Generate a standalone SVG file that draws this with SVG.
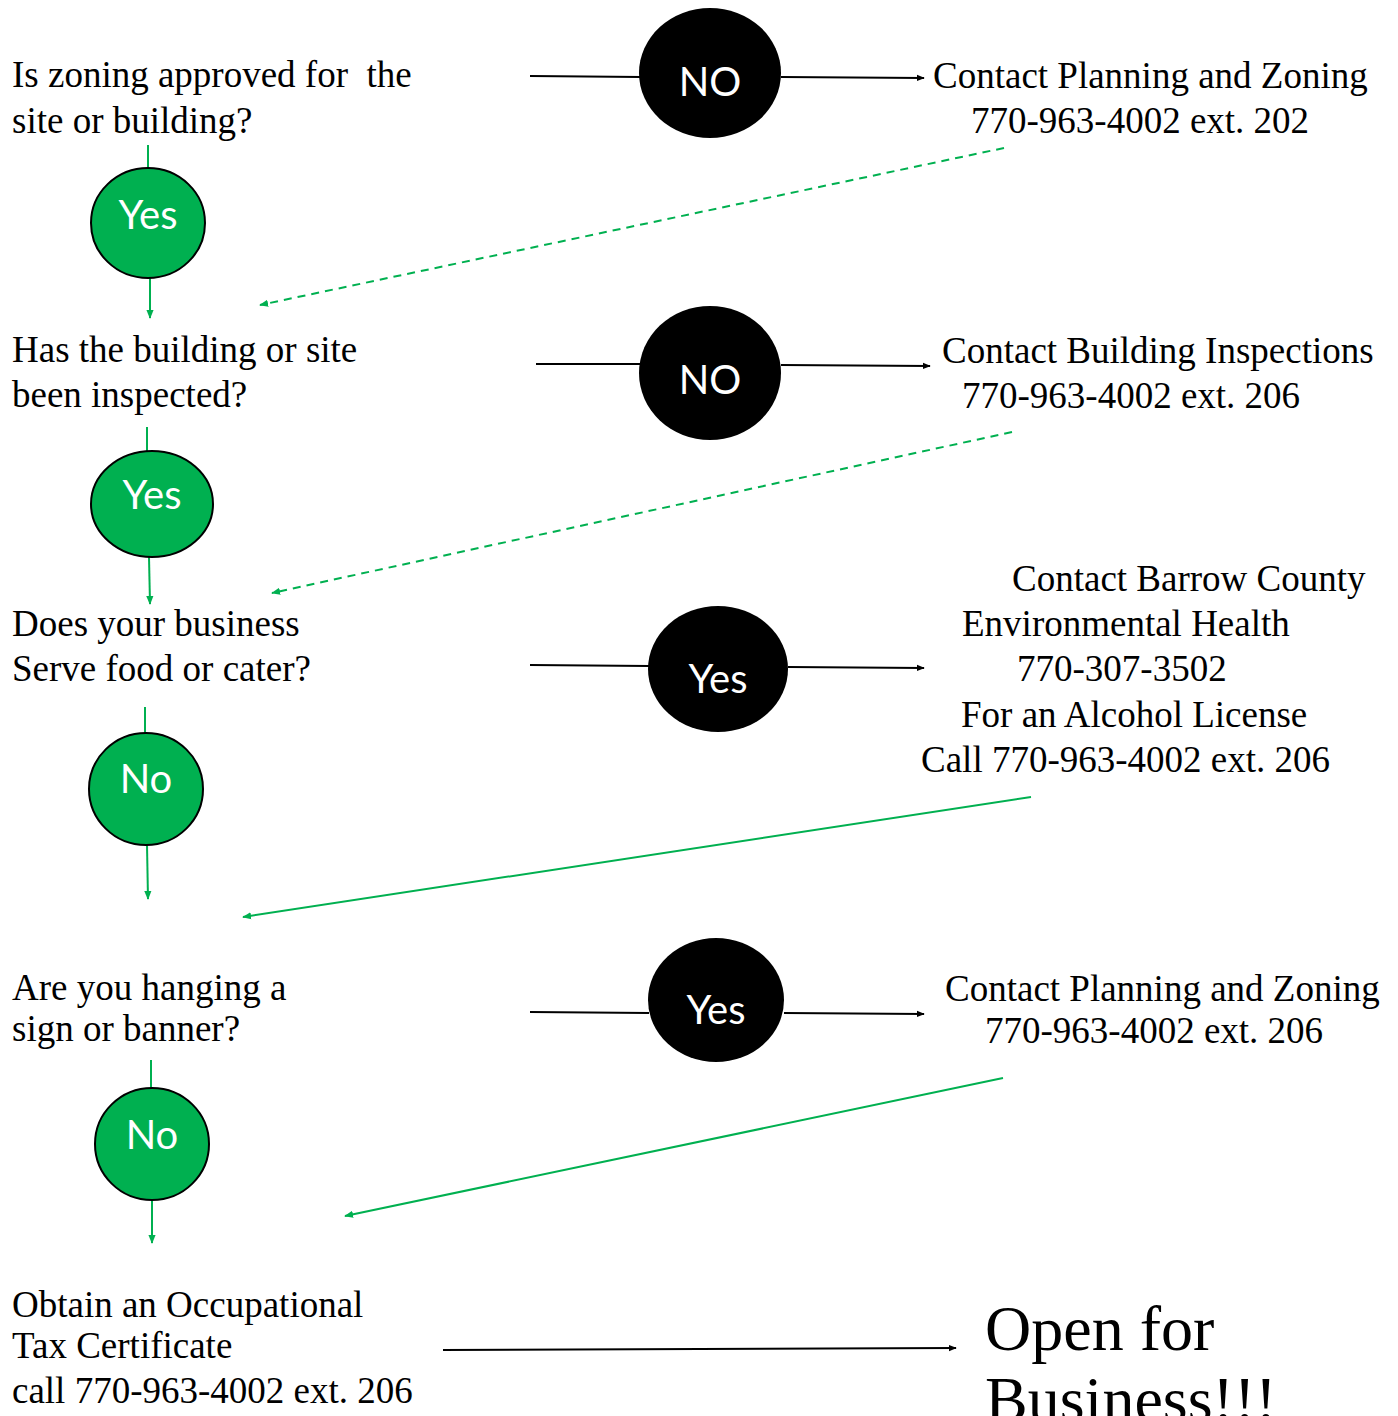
<svg xmlns="http://www.w3.org/2000/svg" width="1398" height="1416" viewBox="0 0 1398 1416">
<defs>
<style>
.t{font-family:"Liberation Serif","Times New Roman",serif;font-size:37px;fill:#000}
.big{font-family:"Liberation Serif","Times New Roman",serif;font-size:64px;fill:#000}
.lbl{font-family:Lato,"Noto Sans",sans-serif;font-size:40px;fill:#fff;text-anchor:middle}
.blk{fill:#000}
.grn{fill:#00B050;stroke:#000;stroke-width:2}
.cb{stroke:#000;stroke-width:2;fill:none}
.cg{stroke:#00B050;stroke-width:2;fill:none}
.dash{stroke-dasharray:8 6}
</style>
<marker id="ab" viewBox="0 0 10 10" refX="9" refY="5" markerWidth="8" markerHeight="8" markerUnits="userSpaceOnUse" orient="auto"><path d="M0,1 L10,5 L0,9 z" fill="#000"/></marker>
<marker id="ag" viewBox="0 0 10 10" refX="9" refY="5" markerWidth="9" markerHeight="9" markerUnits="userSpaceOnUse" orient="auto"><path d="M0,1 L10,5 L0,9 z" fill="#00B050"/></marker>
</defs>
<rect width="1398" height="1416" fill="#fff"/>

<g id="connectors">
<line class="cb" x1="530" y1="76" x2="641" y2="77"/>
<line class="cb" x1="781" y1="77" x2="924" y2="78" marker-end="url(#ab)"/>
<line class="cg" x1="148" y1="145" x2="148" y2="168"/>
<line class="cg" x1="150" y1="278" x2="150" y2="318" marker-end="url(#ag)"/>
<line class="cg dash" x1="1004" y1="148" x2="260" y2="305" marker-end="url(#ag)"/>

<line class="cb" x1="536" y1="364" x2="641" y2="364"/>
<line class="cb" x1="781" y1="365" x2="930" y2="366" marker-end="url(#ab)"/>
<line class="cg" x1="147" y1="427" x2="147" y2="451"/>
<line class="cg" x1="149" y1="557" x2="150" y2="604" marker-end="url(#ag)"/>
<line class="cg dash" x1="1012" y1="432" x2="272" y2="593" marker-end="url(#ag)"/>

<line class="cb" x1="530" y1="665" x2="649" y2="666"/>
<line class="cb" x1="788" y1="667" x2="924" y2="668" marker-end="url(#ab)"/>
<line class="cg" x1="145" y1="707" x2="145" y2="733"/>
<line class="cg" x1="147" y1="845" x2="148" y2="899" marker-end="url(#ag)"/>
<line class="cg" x1="1031" y1="797" x2="243" y2="917" marker-end="url(#ag)"/>

<line class="cb" x1="530" y1="1012" x2="649" y2="1013"/>
<line class="cb" x1="784" y1="1013" x2="924" y2="1014" marker-end="url(#ab)"/>
<line class="cg" x1="151" y1="1060" x2="151" y2="1088"/>
<line class="cg" x1="152" y1="1200" x2="152" y2="1243" marker-end="url(#ag)"/>
<line class="cg" x1="1003" y1="1078" x2="345" y2="1216" marker-end="url(#ag)"/>

<line class="cb" x1="443" y1="1350" x2="956" y2="1348" marker-end="url(#ab)"/>
</g>

<g id="q1"><text class="t" x="12" y="87" xml:space="preserve">Is zoning approved for  the</text><text class="t" x="12" y="133">site or building?</text></g>
<g id="no1"><ellipse class="blk" cx="710" cy="73" rx="71" ry="65"/><text class="lbl" x="710" y="96">NO</text></g>
<g id="r1"><text class="t" x="933" y="88">Contact Planning and Zoning</text><text class="t" x="971" y="133">770-963-4002 ext. 202</text></g>
<g id="yes1"><ellipse class="grn" cx="148" cy="223" rx="57" ry="55"/><text class="lbl" x="148" y="229">Yes</text></g>

<g id="q2"><text class="t" x="12" y="362">Has the building or site</text><text class="t" x="12" y="407">been inspected?</text></g>
<g id="no2"><ellipse class="blk" cx="710" cy="373" rx="71" ry="67"/><text class="lbl" x="710" y="394">NO</text></g>
<g id="r2"><text class="t" x="942" y="363">Contact Building Inspections</text><text class="t" x="962" y="408">770-963-4002 ext. 206</text></g>
<g id="yes2"><ellipse class="grn" cx="152" cy="504" rx="61" ry="53"/><text class="lbl" x="152" y="509">Yes</text></g>

<g id="q3"><text class="t" x="12" y="636">Does your business</text><text class="t" x="12" y="681">Serve food or cater?</text></g>
<g id="yes3"><ellipse class="blk" cx="718" cy="669" rx="70" ry="63"/><text class="lbl" x="718" y="693">Yes</text></g>
<g id="r3"><text class="t" x="1012" y="591">Contact Barrow County</text><text class="t" x="962" y="636">Environmental Health</text><text class="t" x="1017" y="681">770-307-3502</text><text class="t" x="961" y="727">For an Alcohol License</text><text class="t" x="921" y="772">Call 770-963-4002 ext. 206</text></g>
<g id="no3"><ellipse class="grn" cx="146" cy="789" rx="57" ry="56"/><text class="lbl" x="146" y="793">No</text></g>

<g id="q4"><text class="t" x="12" y="1000">Are you hanging a</text><text class="t" x="12" y="1041">sign or banner?</text></g>
<g id="yes4"><ellipse class="blk" cx="716" cy="1000" rx="68" ry="62"/><text class="lbl" x="716" y="1024">Yes</text></g>
<g id="r4"><text class="t" x="945" y="1001">Contact Planning and Zoning</text><text class="t" x="985" y="1043">770-963-4002 ext. 206</text></g>
<g id="no4"><ellipse class="grn" cx="152" cy="1144" rx="57" ry="56"/><text class="lbl" x="152" y="1149">No</text></g>

<g id="q5"><text class="t" x="12" y="1317">Obtain an Occupational</text><text class="t" x="12" y="1358">Tax Certificate</text><text class="t" x="12" y="1403">call 770-963-4002 ext. 206</text></g>
<g id="open"><text class="big" x="985" y="1350">Open for</text><text class="big" x="985" y="1421">Business!!!</text></g>
</svg>
